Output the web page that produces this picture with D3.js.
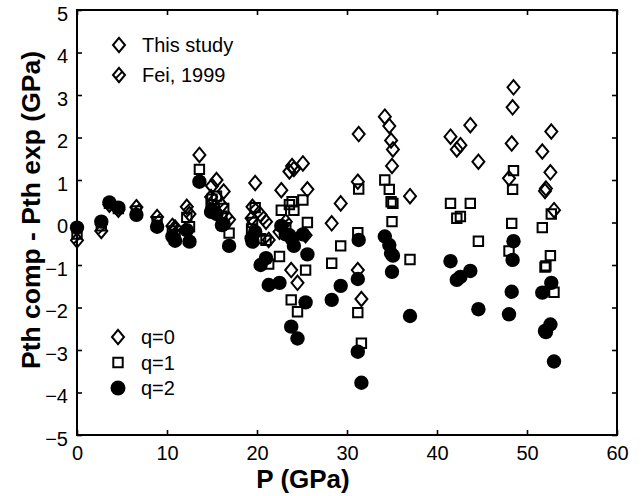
<!DOCTYPE html>
<html>
<head>
<meta charset="utf-8">
<script src="https://cdn.jsdelivr.net/npm/d3@7"></script>
<style>
  html, body { margin: 0; padding: 0; background: #fff; }
  svg { display: block; font-family: "Liberation Sans", Arial, Helvetica, sans-serif; }
</style>
</head>
<body>
<svg id="chart" width="643" height="496"></svg>
<script>
// ---------- data ----------
// This study
const thisP  = [13.6, 15.0, 15.5, 16.3, 19.8, 22.5, 22.7, 23.6, 23.9, 24.1, 25.1, 25.6, 23.8, 24.5, 25.4,
                28.3, 29.3, 31.3, 31.2, 31.2, 31.6, 34.2, 34.7, 34.9, 35.1, 35.0, 37.0,
                41.5, 42.2, 42.6, 43.7, 44.6, 48.5, 48.4, 48.3, 48.0,
                52.7, 51.7, 52.6, 52.1, 52.0, 53.0];
const thisQ0 = [1.59, 0.86, 1.00, 0.73, 0.93, -0.22, 0.76, 1.20, 1.33, 1.26, 1.39, 0.78, -1.12, -1.42, -0.30,
                -0.02, 0.45, 2.08, 0.96, -1.12, -1.80, 2.49, 2.27, 1.93, 1.72, 1.33, 0.62,
                2.02, 1.72, 1.82, 2.29, 1.43, 3.18, 2.71, 1.86, 1.04,
                2.14, 1.67, 1.18, 0.80, 0.74, 0.29];
const thisQ1 = [1.25, 0.55, 0.62, 0.33, 0.35, -0.80, 0.29, 0.42, 0.49, 0.29, 0.53, 0.00, -1.82, -2.10, -1.12,
                -0.96, -0.55, 0.79, -0.24, -2.12, -2.84, 1.00, 0.78, 0.49, 0.45, 0.02, -0.87,
                0.45, 0.10, 0.14, 0.45, -0.44, 1.22, 0.78, -0.02, -0.67,
                0.20, -0.12, -0.78, -1.02, -1.05, -1.64];
const thisQ2 = [0.96, 0.29, 0.20, -0.04, -0.22, -1.42, -0.08, -0.30, -0.40, -0.55, -0.28, -0.75, -2.45, -2.73, -1.88,
                -1.82, -1.49, -0.41, -1.33, -3.04, -3.77, -0.33, -0.53, -0.73, -0.78, -1.16, -2.20,
                -0.91, -1.35, -1.28, -1.14, -2.04, -0.44, -0.88, -1.63, -2.16,
                -1.42, -1.65, -2.40, -2.58, -2.55, -3.27];
// Fei, 1999
const feiP  = [0.0, 2.7, 3.6, 4.6, 6.6, 8.9, 10.6, 10.9, 12.2, 12.5, 14.9, 16.1, 16.9, 19.5, 19.4, 20.4, 21.0, 21.3, 23.2];
const feiQ0 = [-0.42, -0.20, 0.42, 0.30, 0.36, 0.13, -0.08, -0.12, 0.37, 0.20, 0.60, 0.40, 0.07, 0.37, 0.10, 0.18, 0.02, -0.41, 0.02];
const feiQ1 = [-0.27, -0.08, 0.45, 0.33, 0.27, 0.02, -0.20, -0.28, 0.12, -0.10, 0.42, 0.15, -0.25, 0.00, -0.15, -0.38, -0.42, -0.98, -0.12];
const feiQ2 = [-0.12, 0.02, 0.47, 0.35, 0.18, -0.10, -0.33, -0.43, -0.18, -0.45, 0.25, -0.06, -0.55, -0.45, -0.37, -1.00, -0.84, -1.47, -0.28];

const xTicks = [0, 10, 20, 30, 40, 50, 60];
const yTicks = [-5, -4, -3, -2, -1, 0, 1, 2, 3, 4, 5];
const topLegend = ["This study", "Fei, 1999"];
const qLegend = ["q=0", "q=1", "q=2"];
const xTitle = "P (GPa)";
const yTitle = "Pth comp - Pth exp (GPa)";

// ---------- chart ----------
const svg = d3.select("#chart");
const L = 77, R = 617, T = 10, B = 435;
const x = d3.scaleLinear().domain([0, 60]).range([L, R]);
const y = d3.scaleLinear().domain([-5, 5]).range([B, T]);

const diamondPath = "M0,-7.2L6,0L0,7.2L-6,0Z";
const feiPath = diamondPath + "M-2.6,2.6L2.6,-2.6";
const squarePath = "M-4.7,-4.7H4.7V4.7H-4.7Z";

const tickFont = 20;

// axes
const gL = svg.append("g").attr("transform", `translate(${L},0)`)
  .call(d3.axisLeft(y).tickValues(yTicks).tickSize(-5).tickPadding(9));
const gB = svg.append("g").attr("transform", `translate(0,${B})`)
  .call(d3.axisBottom(x).tickValues(xTicks).tickSize(-5).tickPadding(11));
const gT = svg.append("g").attr("transform", `translate(0,${T})`)
  .call(d3.axisTop(x).tickValues(xTicks).tickSize(-5).tickFormat(""));
const gR = svg.append("g").attr("transform", `translate(${R},0)`)
  .call(d3.axisRight(y).tickValues(yTicks).tickSize(-5).tickFormat(""));
[gL, gB, gT, gR].forEach(g => {
  g.select(".domain").remove();
  g.selectAll(".tick line").attr("stroke", "#000").attr("stroke-width", 1.6);
  g.selectAll("text").attr("font-size", tickFont).attr("fill", "#000")
    .attr("font-family", "'Liberation Sans', Arial, sans-serif");
});
gL.selectAll("text").attr("dy", "0.52em");

// frame
svg.append("rect").attr("x", L).attr("y", T).attr("width", R - L).attr("height", B - T)
  .attr("fill", "none").attr("stroke", "#000").attr("stroke-width", 2);

// titles
svg.append("text").attr("x", 303).attr("y", 488).attr("text-anchor", "middle")
  .attr("font-size", 26).attr("font-weight", "bold").text(xTitle);
svg.append("text").attr("transform", "translate(40,210) rotate(-90)").attr("text-anchor", "middle")
  .attr("font-size", 26.5).attr("font-weight", "bold").text(yTitle);

// marks
const plot = svg.append("g");
function drawSet(P, Q0, Q1, dPath) {
  plot.append("g").selectAll("path").data(P.map((p, i) => [p, Q0[i]])).join("path")
    .attr("d", dPath).attr("transform", d => `translate(${x(d[0])},${y(d[1])})`)
    .attr("fill", "none").attr("stroke", "#000").attr("stroke-width", 2);
  plot.append("g").selectAll("path").data(P.map((p, i) => [p, Q1[i]])).join("path")
    .attr("d", squarePath).attr("transform", d => `translate(${x(d[0])},${y(d[1])})`)
    .attr("fill", "none").attr("stroke", "#000").attr("stroke-width", 2);
}
drawSet(feiP, feiQ0, feiQ1, feiPath);
drawSet(thisP, thisQ0, thisQ1, diamondPath);
const circ = plot.append("g");
circ.append("g").selectAll("circle").data(feiP.map((p, i) => [p, feiQ2[i]])).join("circle")
  .attr("cx", d => x(d[0])).attr("cy", d => y(d[1])).attr("r", 7.2).attr("fill", "#000");
circ.append("g").selectAll("circle").data(thisP.map((p, i) => [p, thisQ2[i]])).join("circle")
  .attr("cx", d => x(d[0])).attr("cy", d => y(d[1])).attr("r", 7.2).attr("fill", "#000");

// top legend
const tl = svg.append("g");
topLegend.forEach((t, i) => {
  const cy = 45 + i * 30;
  tl.append("path").attr("d", i === 0 ? diamondPath : feiPath)
    .attr("transform", `translate(119,${cy})`).attr("fill", "none").attr("stroke", "#000").attr("stroke-width", 2);
  tl.append("text").attr("x", 142).attr("y", cy + 7).attr("font-size", 20).text(t);
});

// q legend
const ql = svg.append("g");
qLegend.forEach((t, i) => {
  const cy = 337 + i * 25.5;
  if (i === 0) ql.append("path").attr("d", diamondPath).attr("transform", `translate(118,${cy})`)
    .attr("fill", "none").attr("stroke", "#000").attr("stroke-width", 2);
  if (i === 1) ql.append("path").attr("d", squarePath).attr("transform", `translate(118,${cy})`)
    .attr("fill", "none").attr("stroke", "#000").attr("stroke-width", 2);
  if (i === 2) ql.append("circle").attr("cx", 118).attr("cy", cy).attr("r", 7.5).attr("fill", "#000");
  ql.append("text").attr("x", 141).attr("y", cy + 7).attr("font-size", 20).text(t);
});
</script>
</body>
</html>
